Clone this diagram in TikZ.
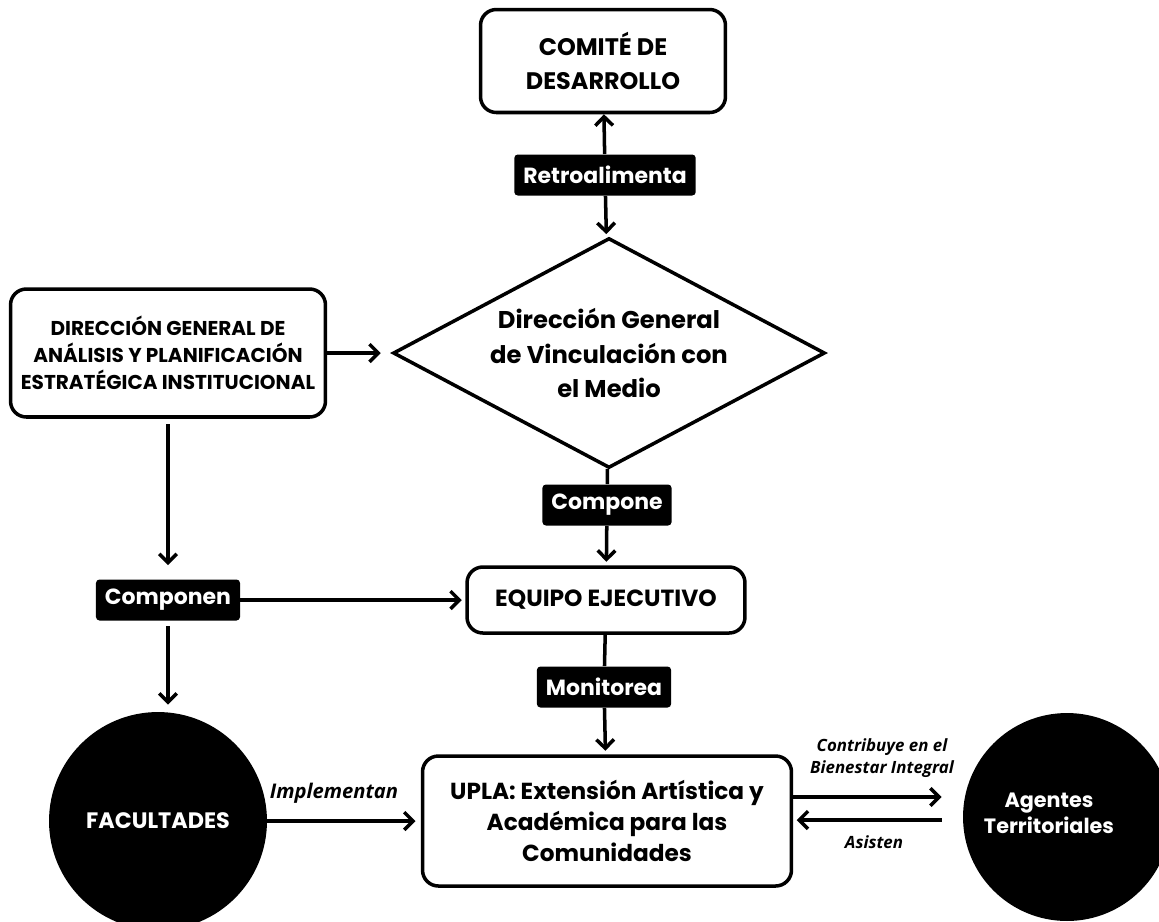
\documentclass[tikz,border=0pt]{standalone}
\usepackage{fontspec}
\setmainfont{Poppins}
\newfontfamily\notefont{Open Sans}
\usetikzlibrary{shapes.geometric,arrows.meta,calc}

\begin{document}
\begin{tikzpicture}[x=0.02cm, y=-0.02cm,
  box/.style = {draw, line width=2pt, rounded corners=9pt, align=center, inner sep=0pt},
  tag/.style = {fill=black, rounded corners=2pt, text=white, inner xsep=0.18cm, minimum height=0.82cm,
                font=\bfseries\fontsize{12.5}{14}\selectfont},
  dot/.style = {circle, fill=black, inner sep=0pt, text=white, align=center},
  arr/.style = {-{Straight Barb[length=5pt,width=10pt]}, line width=2pt},
  lnk/.style = {line width=2pt},
  say/.style = {align=center, font=\notefont\bfseries\itshape\fontsize{9.6}{12.5}\selectfont}]
	\useasboundingbox (0,0) rectangle (1159,921);
	\node[box, minimum width=4.9cm, minimum height=2.06cm, font=\bfseries\fontsize{13.6}{19.3}\selectfont] (comite) at (603,61) {COMITÉ DE\\DESARROLLO};
	\node[tag] (retro) at (605,175) {Retroalimenta};
	\node[draw, diamond, aspect=1.88, line width=2pt, minimum width=8.64cm, minimum height=4.6cm, inner sep=0pt, align=center,
	      font=\bfseries\fontsize{13.8}{19.8}\selectfont] (dirvcm) at (609,353) {Dirección General\\de Vinculación con\\el Medio};
	\node[box, minimum width=6.3cm, minimum height=2.56cm, font=\bfseries\fontsize{11.4}{15.5}\selectfont] (dgapei) at (168,353) {DIRECCIÓN GENERAL DE\\ANÁLISIS Y PLANIFICACIÓN\\ESTRATÉGICA INSTITUCIONAL};
	\node[tag] (compone) at (607,505) {Compone};
	\node[box, minimum width=5.56cm, minimum height=1.32cm, font=\bfseries\fontsize{13.3}{15}\selectfont] (equipo) at (606,600) {EQUIPO EJECUTIVO};
	\node[tag] (componen) at (168,600) {Componen};
	\node[tag] (monitorea) at (604,687) {Monitorea};
	\node[box, minimum width=7.38cm, minimum height=2.6cm, font=\bfseries\fontsize{13.2}{17.6}\selectfont] (upla) at (607,821) {UPLA: Extensión Artística y\\Académica para las\\Comunidades};
	\node[dot, minimum size=4.36cm, font=\bfseries\fontsize{12.7}{15}\selectfont] (facultades) at (158,821) {FACULTADES};
	\node[dot, minimum size=4.16cm] (agentes) at (1067,817) {};
	\node[text=white, align=center, font=\bfseries\fontsize{11.8}{15}\selectfont] (agtxt) at (1049,813) {Agentes\\Territoriales};
	\draw[arr] (retro) -- (comite);
	\draw[arr, shorten >=2pt] (retro) -- (dirvcm);
	\draw[arr, shorten >=6pt] (dgapei) -- (dirvcm);
	\draw[arr, shorten <=3pt, shorten >=8pt] (dgapei) -- (componen);
	\draw[arr, shorten >=2pt] (componen) -- (equipo);
	\draw[arr, shorten <=3pt, shorten >=4pt] (componen.south) -- (componen.south |- facultades.north);
	\draw[lnk] (dirvcm) -- (compone);
	\draw[arr, shorten >=2pt] (compone) -- (equipo);
	\draw[lnk] (equipo) -- (monitorea);
	\draw[arr, shorten >=2pt] (monitorea) -- (upla);
	\draw[arr, shorten >=3pt] (facultades) -- (upla);
	\node[say, font=\notefont\bfseries\itshape\fontsize{11.5}{13}\selectfont] (impl) at (334,793) {Implementan};
	\draw[arr] ($(upla.east)+(0,-24)$) -- ($(agentes.west)+(-21,-20)$);
	\draw[arr, shorten >=2pt] ($(agentes.west)+(-21,3)$) -- ($(upla.east)+(0,-1)$);
	\node[say] (contrib) at (882,758) {Contribuye en el\\Bienestar Integral};
	\node[say] (asisten) at (874,842) {Asisten};
\end{tikzpicture}
\end{document}
